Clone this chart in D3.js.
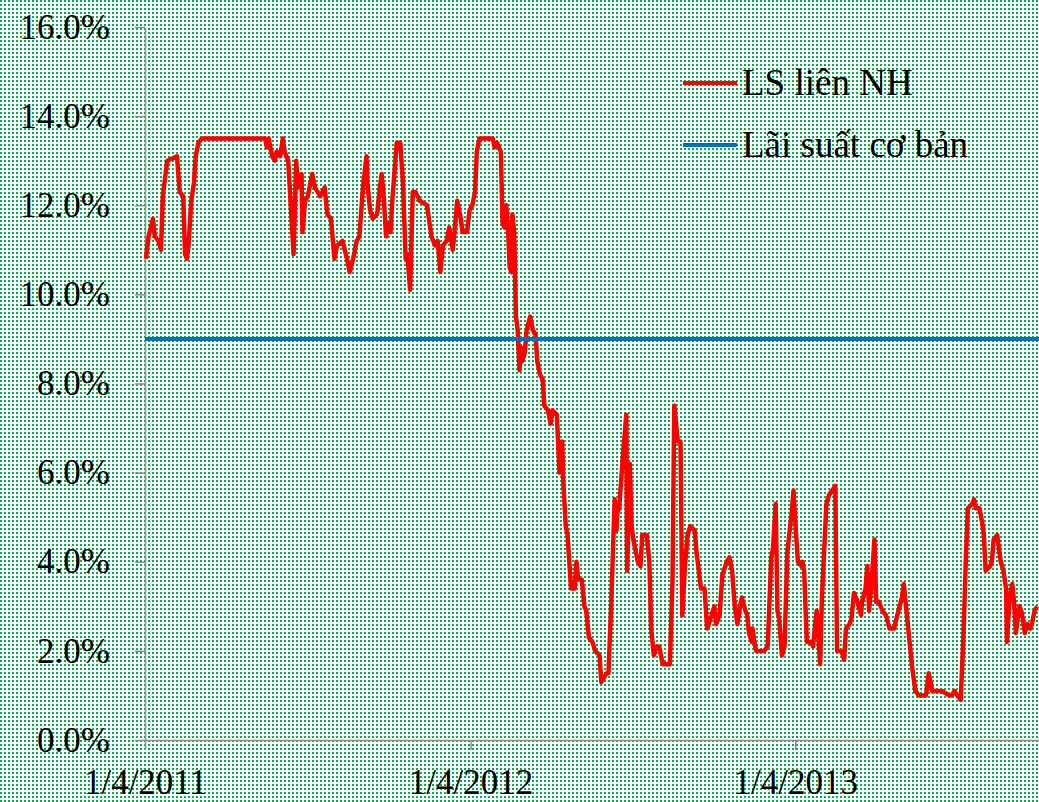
<!DOCTYPE html>
<html>
<head>
    <meta charset="utf-8">
    <style>
        body { margin: 0; background: #fff; }
        svg { display: block; }
        .axis text {
            font-family: 'Times New Roman', 'Liberation Serif', serif;
            font-size: 35px;
            fill: #000;
        }
        .axis .domain, .axis .tick line {
            stroke: #8c8c8c;
            stroke-width: 1.5;
        }
        .legend text {
            font-family: 'Times New Roman', 'Liberation Serif', serif;
            font-size: 37px;
            fill: #000;
        }
    </style>
</head>
<body>
<svg width="1039" height="802"></svg>

<script src="https://d3js.org/d3.v7.min.js"></script>
<script>
    // series names
    let seriesNames = ["LS liên NH", "Lãi suất cơ bản"];

    // interbank rate (%)
    let interbankDates = [
        "2011-04-02", "2011-04-05", "2011-04-10", "2011-04-12", "2011-04-16", "2011-04-19", "2011-04-21", "2011-04-26",
        "2011-05-07", "2011-05-10", "2011-05-14", "2011-05-16", "2011-05-18", "2011-05-20", "2011-05-23", "2011-05-26", "2011-05-28", "2011-05-31",
        "2011-06-04", "2011-06-07", "2011-08-14", "2011-08-16", "2011-08-18", "2011-08-22", "2011-08-25", "2011-08-27", "2011-08-31",
        "2011-09-03", "2011-09-05", "2011-09-09", "2011-09-13", "2011-09-15", "2011-09-18", "2011-09-20", "2011-09-24", "2011-09-25", "2011-09-28",
        "2011-10-01", "2011-10-06", "2011-10-09", "2011-10-15", "2011-10-20", "2011-10-23", "2011-10-27", "2011-10-31",
        "2011-11-03", "2011-11-09", "2011-11-14", "2011-11-17", "2011-11-21", "2011-11-25", "2011-11-28",
        "2011-12-02", "2011-12-06", "2011-12-07", "2011-12-10", "2011-12-13", "2011-12-18", "2011-12-21", "2011-12-23", "2011-12-25", "2011-12-28", "2011-12-30",
        "2012-01-02", "2012-01-04", "2012-01-09", "2012-01-13", "2012-01-16", "2012-01-19", "2012-01-21", "2012-01-24", "2012-01-27", "2012-01-30",
        "2012-02-04", "2012-02-12", "2012-02-17", "2012-02-21", "2012-02-24", "2012-02-27",
        "2012-03-01", "2012-03-05", "2012-03-08", "2012-03-12", "2012-03-14", "2012-03-17", "2012-03-21", "2012-03-23", "2012-03-28", "2012-03-31",
        "2012-04-03", "2012-04-06", "2012-04-08", "2012-04-11", "2012-04-15", "2012-04-26", "2012-04-28",
        "2012-05-01", "2012-05-05", "2012-05-07", "2012-05-09", "2012-05-11", "2012-05-13", "2012-05-15", "2012-05-17", "2012-05-18", "2012-05-20",
        "2012-05-22", "2012-05-24", "2012-05-26", "2012-05-28", "2012-05-29",
        "2012-06-01", "2012-06-03", "2012-06-07", "2012-06-10", "2012-06-13", "2012-06-15", "2012-06-18", "2012-06-21", "2012-06-23", "2012-06-27", "2012-06-30",
        "2012-07-02", "2012-07-07", "2012-07-10", "2012-07-13", "2012-07-14", "2012-07-17", "2012-07-19", "2012-07-23", "2012-07-27", "2012-07-29", "2012-07-31",
        "2012-08-04", "2012-08-07", "2012-08-09", "2012-08-12", "2012-08-16", "2012-08-19", "2012-08-24", "2012-08-26",
        "2012-09-01", "2012-09-03", "2012-09-06", "2012-09-10", "2012-09-12", "2012-09-13", "2012-09-15", "2012-09-19", "2012-09-23", "2012-09-24", "2012-09-27", "2012-09-29",
        "2012-10-01", "2012-10-03", "2012-10-06", "2012-10-09", "2012-10-11", "2012-10-16", "2012-10-19", "2012-10-21", "2012-10-24", "2012-10-27", "2012-10-30",
        "2012-11-03", "2012-11-11", "2012-11-14", "2012-11-16", "2012-11-20", "2012-11-23", "2012-11-25", "2012-11-28",
        "2012-12-01", "2012-12-04", "2012-12-09", "2012-12-11", "2012-12-13", "2012-12-16", "2012-12-20", "2012-12-23", "2012-12-28", "2012-12-31",
        "2013-01-02", "2013-01-06", "2013-01-09", "2013-01-14", "2013-01-17", "2013-01-20", "2013-01-23", "2013-01-26", "2013-01-29", "2013-01-31",
        "2013-02-04", "2013-02-06", "2013-02-08", "2013-02-11", "2013-02-12", "2013-02-14", "2013-02-16", "2013-02-25",
        "2013-03-01", "2013-03-05", "2013-03-07", "2013-03-10", "2013-03-12", "2013-03-14", "2013-03-17", "2013-03-20", "2013-03-23", "2013-03-28", "2013-03-30",
        "2013-04-02", "2013-04-04", "2013-04-08", "2013-04-09", "2013-04-11", "2013-04-14", "2013-04-19", "2013-04-21", "2013-04-25", "2013-04-26", "2013-04-29",
        "2013-05-01", "2013-05-06", "2013-05-09", "2013-05-16", "2013-05-18", "2013-05-23", "2013-05-26", "2013-05-28",
        "2013-06-01", "2013-06-03", "2013-06-06", "2013-06-10", "2013-06-14", "2013-06-15", "2013-06-19", "2013-06-21", "2013-06-23", "2013-06-26", "2013-06-29",
        "2013-07-01", "2013-07-04", "2013-07-08", "2013-07-12", "2013-07-16", "2013-07-21", "2013-07-26", "2013-07-30",
        "2013-08-01", "2013-08-04", "2013-08-07", "2013-08-10", "2013-08-14", "2013-08-18", "2013-08-26", "2013-08-29",
        "2013-09-02", "2013-09-06", "2013-09-13", "2013-09-21", "2013-09-24", "2013-09-27", "2013-09-30",
        "2013-10-04", "2013-10-07", "2013-10-10", "2013-10-12", "2013-10-17", "2013-10-19", "2013-10-21", "2013-10-25", "2013-10-28", "2013-10-30",
        "2013-11-01", "2013-11-06", "2013-11-08", "2013-11-10", "2013-11-14", "2013-11-16", "2013-11-18", "2013-11-21", "2013-11-24", "2013-11-25", "2013-11-28",
        "2013-12-01", "2013-12-03", "2013-12-05", "2013-12-09", "2013-12-11", "2013-12-13", "2013-12-15", "2013-12-18", "2013-12-21", "2013-12-23", "2013-12-26", "2013-12-29"
    ];

    let interbankRates = [
        10.8, 11.3, 11.7, 11.3, 11.2, 11.0, 12.2, 13.0,
        13.1, 12.3, 12.2, 10.9, 10.8, 11.1, 12.1, 12.5, 13.1, 13.4,
        13.5, 13.5, 13.5, 13.3, 13.5, 13.1, 13.0, 13.2, 13.1,
        13.5, 13.2, 13.0, 11.6, 10.9, 13.0, 12.4, 12.7, 11.4, 12.1,
        12.2, 12.7, 12.4, 12.2, 12.4, 11.8, 11.7, 10.8,
        11.1, 11.2, 10.8, 10.5, 10.8, 11.2, 11.3,
        12.4, 13.1, 12.5, 11.9, 11.7, 11.8, 12.4, 12.7, 12.3, 11.3, 11.6,
        11.4, 12.1, 13.4, 13.4, 12.5, 10.8, 10.9, 10.1, 12.3, 12.3,
        12.1, 12.0, 11.3, 11.1, 11.2, 10.5,
        11.1, 11.2, 11.5, 11.0, 11.4, 12.1, 11.7, 11.4, 11.4, 11.9,
        12.0, 12.3, 13.2, 13.5, 13.5, 13.5, 13.3,
        13.4, 13.2, 11.6, 11.5, 12.0, 11.5, 10.6, 10.5, 11.8, 11.4,
        9.5, 9.2, 8.3, 8.8, 8.5,
        8.7, 9.2, 9.5, 9.2, 9.1, 8.5, 8.2, 8.1, 7.5, 7.4, 7.1,
        7.4, 7.3, 6.0, 6.7, 5.9, 4.8, 4.6, 3.4, 3.4, 4.0, 3.6,
        3.6, 3.0, 2.9, 2.3, 2.2, 2.0, 1.9, 1.3,
        1.5, 1.5, 3.0, 5.4, 4.7, 5.1, 5.2, 6.3, 7.3, 3.8, 6.2, 4.8,
        4.5, 4.3, 4.0, 3.9, 4.6, 4.6, 4.0, 2.5, 1.9, 2.1, 2.1,
        1.7, 1.7, 3.6, 7.5, 6.7, 6.7, 2.8, 3.9,
        4.6, 4.8, 4.7, 4.2, 3.9, 3.4, 3.4, 2.5, 2.8, 3.0,
        2.6, 2.8, 3.7, 4.0, 4.1, 3.8, 3.0, 2.6, 3.0, 3.2,
        2.9, 2.8, 2.4, 2.2, 2.5, 2.2, 2.0, 2.0,
        2.1, 4.1, 4.3, 5.3, 2.9, 2.7, 1.9, 2.1, 4.2, 5.1, 5.6,
        4.6, 4.0, 3.9, 4.0, 3.8, 2.2, 2.2, 2.1, 2.9, 2.6, 1.7,
        3.2, 5.3, 5.5, 5.7, 2.0, 2.0, 1.8, 2.5,
        2.6, 2.7, 3.3, 3.1, 2.8, 3.1, 3.4, 3.9, 2.9, 3.6, 4.5,
        3.1, 3.1, 2.9, 2.8, 2.5, 2.5, 2.9, 3.2,
        3.5, 2.9, 2.3, 1.7, 1.1, 1.0, 1.0, 1.5,
        1.1, 1.1, 1.1, 1.0, 1.0, 1.1, 1.0,
        0.9, 2.3, 4.2, 5.2, 5.3, 5.4, 5.2, 5.2, 4.9, 4.6,
        3.8, 3.9, 4.0, 4.5, 4.6, 4.3, 4.0, 3.8, 3.4, 2.2, 3.2,
        3.5, 3.1, 2.4, 3.0, 2.9, 2.7, 2.4, 2.6, 2.5, 2.6, 2.9, 3.0
    ];

    // base rate (%), flat the whole period
    let baseDates = ["2011-04-01", "2013-12-31"];
    let baseRates = [9, 9];

    // axis ticks
    let yTicks = [0, 2, 4, 6, 8, 10, 12, 14, 16];
    let xTickDates = ["2011-04-01", "2012-04-01", "2013-04-01"];

    let parse = d3.timeParse("%Y-%m-%d");
    let fmtDate = d3.timeFormat("%-d/%-m/%Y");

    let interbank = interbankDates.map((d, i) => ({ date: parse(d), value: interbankRates[i] }));
    let base = baseDates.map((d, i) => ({ date: parse(d), value: baseRates[i] }));

    let svg = d3.select("svg");

    // green dotted background
    let defs = svg.append("defs");
    let pat = defs.append("pattern")
        .attr("id", "dots")
        .attr("patternUnits", "userSpaceOnUse")
        .attr("width", 4)
        .attr("height", 4);
    pat.append("rect").attr("width", 4).attr("height", 4).attr("fill", "#fff");
    pat.append("rect").attr("width", 2).attr("height", 2).attr("fill", "#00B050");

    svg.append("rect")
        .attr("width", 1039)
        .attr("height", 802)
        .attr("fill", "url(#dots)");

    let x = d3.scaleTime()
        .domain([parse("2011-04-01"), parse("2013-12-31")])
        .range([145, 1039]);

    let y = d3.scaleLinear()
        .domain([0, 16])
        .range([740, 27]);

    // y axis
    svg.append("g")
        .attr("class", "y axis")
        .attr("transform", "translate(145,0)")
        .call(d3.axisLeft(y)
            .tickValues(yTicks)
            .tickSize(10)
            .tickSizeOuter(0)
            .tickPadding(25)
            .tickFormat(d => d.toFixed(1) + "%"));

    // x axis
    let xAxis = svg.append("g")
        .attr("class", "x axis")
        .attr("transform", "translate(0,740)")
        .call(d3.axisBottom(x)
            .tickValues(xTickDates.map(parse))
            .tickSize(10)
            .tickSizeOuter(0)
            .tickFormat(fmtDate));

    xAxis.selectAll(".tick text")
        .attr("y", 54)
        .attr("dy", 0);

    let line = d3.line()
        .x(d => x(d.date))
        .y(d => y(d.value));

    svg.append("path")
        .datum(interbank)
        .attr("fill", "none")
        .attr("stroke", "#FF0000")
        .attr("stroke-width", 4.5)
        .attr("stroke-linejoin", "round")
        .attr("d", line);

    svg.append("path")
        .datum(base)
        .attr("fill", "none")
        .attr("stroke", "#0070C0")
        .attr("stroke-width", 4)
        .attr("d", line);

    // legend
    let legend = svg.append("g").attr("class", "legend");
    let legendColors = ["#FF0000", "#0070C0"];
    seriesNames.forEach((name, i) => {
        let ly = 83 + i * 62;
        legend.append("line")
            .attr("x1", 683).attr("x2", 737)
            .attr("y1", ly).attr("y2", ly)
            .attr("stroke", legendColors[i])
            .attr("stroke-width", 4);
        legend.append("text")
            .attr("x", 742)
            .attr("y", ly + 12)
            .text(name);
    });
</script>
</body>
</html>
